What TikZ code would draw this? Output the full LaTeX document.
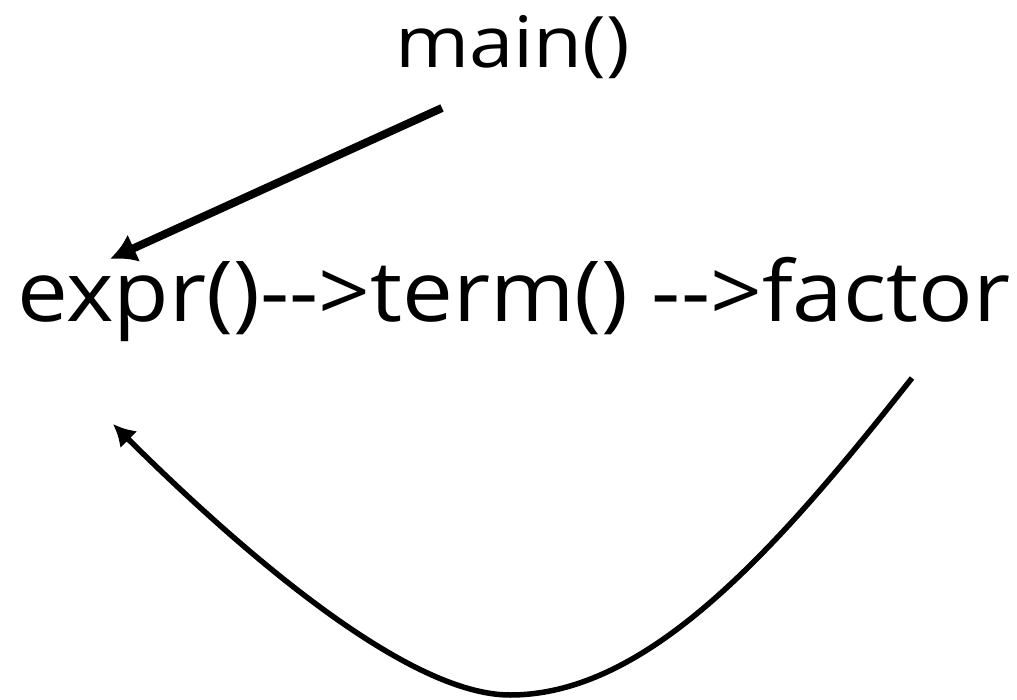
\documentclass[tikz,border=0pt]{standalone}
\usepackage{fontspec}
\setmainfont{Open Sans}[Ligatures=NoCommon]
\usetikzlibrary{arrows.meta}
\begin{document}
\begin{tikzpicture}[x=1pt,y=-1pt,
  lbl/.style={inner sep=0pt},
  conn/.style={line width=8pt, -{Latex[length=26pt,width=30pt]}},
  back/.style={line width=5.5pt, -{Latex[length=22pt,width=24pt]}}]
\useasboundingbox (0,0) rectangle (1017,700);
\node[lbl, anchor=base west] (main) at (395,68) {\fontsize{71}{76}\selectfont\resizebox{235pt}{\height}{main()}};
\node[lbl, anchor=base west] (line) at (17,322) {\fontsize{84}{90}\selectfont\resizebox{993pt}{\height}{expr()-{}->term() -{}->factor}};
\coordinate (mstart) at (442,108);
\coordinate (mend) at (110,259);
\coordinate (cstart) at (912,378);
\coordinate (cend) at (113,424);
\draw[conn] (mstart) -- (mend);
\draw[back] (cstart) .. controls (780,545) and (650,695) .. (510,695)
  .. controls (410,695) and (250,560) .. (cend);
\end{tikzpicture}
\end{document}
